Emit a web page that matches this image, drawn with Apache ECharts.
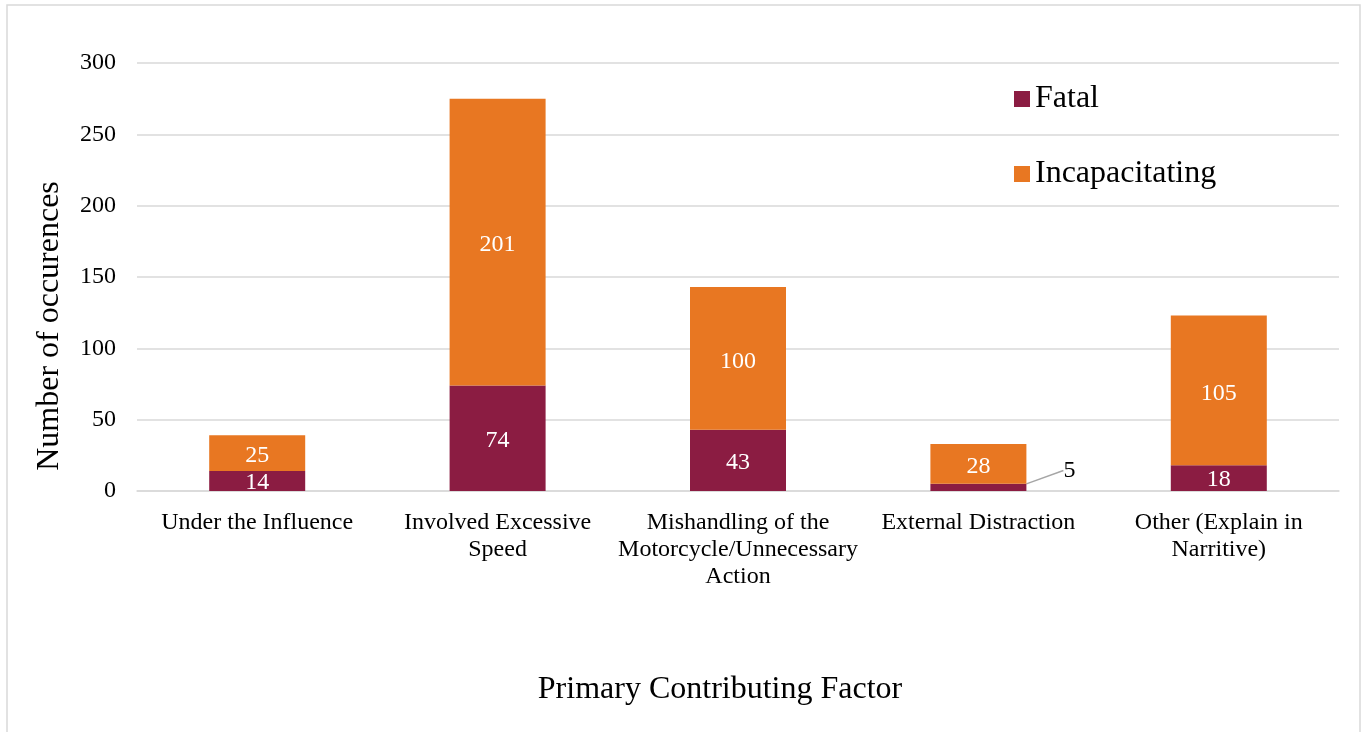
<!DOCTYPE html>
<html>
<head>
<meta charset="utf-8">
<script src="https://cdn.jsdelivr.net/npm/echarts@6/dist/echarts.min.js"></script>
<style>
  html, body { margin: 0; padding: 0; background: #fff; }
  #main { width: 1365px; height: 732px; }
</style>
</head>
<body>
<div id="main"></div>
<script>
var categories = ['Under the Influence', 'Involved Excessive\nSpeed', 'Mishandling of the\nMotorcycle/Unnecessary\nAction', 'External Distraction', 'Other (Explain in\nNarritive)'];
var fatal = [14, 74, 43, 5, 18];
var incapacitating = [25, 201, 100, 28, 105];

var serif = '"Liberation Serif", "Times New Roman", serif';

/*初始化*/
var myChart = echarts.init(document.getElementById('main'));

// 5 is too small to sit inside its bar, so it goes outside with a leader line
var fatalData = fatal.map(function (v) {
    if (v < 10) {
        return {
            value: v,
            label: { position: 'right', color: '#000', distance: 4 },
            labelLine: { show: true, lineStyle: { color: '#a6a6a6', width: 1.5 } }
        };
    }
    return v;
});

var option = {
    animation: false,
    textStyle: { fontFamily: serif },
    grid: { left: 137, right: 26, top: 63, bottom: 241 },
    legend: {
        orient: 'vertical',
        left: 1009,
        top: 78,
        icon: 'rect',
        itemWidth: 16,
        itemHeight: 16,
        itemGap: 43,
        textStyle: { fontFamily: serif, fontSize: 32, color: '#000' },
        data: ['Fatal', 'Incapacitating']
    },
    xAxis: {
        type: 'category',
        data: categories,
        axisLine: { lineStyle: { color: '#d9d9d9', width: 1.5 } },
        axisTick: { show: false },
        axisLabel: {
            interval: 0,
            margin: 18,
            fontFamily: serif,
            fontSize: 24,
            lineHeight: 27,
            color: '#000'
        }
    },
    yAxis: {
        type: 'value',
        min: 0,
        max: 300,
        interval: 50,
        axisLine: { show: false },
        axisTick: { show: false },
        splitLine: { lineStyle: { color: '#d9d9d9', width: 1.5 } },
        axisLabel: { margin: 21, fontFamily: serif, fontSize: 24, color: '#000', padding: [5, 0, 0, 0] }
    },
    graphic: [
        {
            type: 'rect',
            shape: { x: 7, y: 5, width: 1353, height: 740 },
            style: { fill: null, stroke: '#d9d9d9', lineWidth: 1.5 },
            silent: true
        },
        {
            type: 'text',
            x: 50,
            y: 326,
            rotation: Math.PI / 2,
            style: {
                text: 'Number of occurences',
                font: '32px ' + serif,
                fill: '#000',
                align: 'center',
                verticalAlign: 'middle'
            }
        },
        {
            type: 'text',
            x: 720,
            y: 690,
            style: {
                text: 'Primary Contributing Factor',
                font: '32px ' + serif,
                fill: '#000',
                align: 'center',
                verticalAlign: 'middle'
            }
        }
    ],
    series: [
        {
            name: 'Fatal',
            type: 'bar',
            stack: 'total',
            barWidth: 96,
            itemStyle: { color: '#8b1c42' },
            label: { show: true, position: 'inside', color: '#fff', fontFamily: serif, fontSize: 24 },
            labelLayout: function (params) {
                if (fatal[params.dataIndex] < 10) {
                    return { dx: 33, dy: -17 };
                }
                return { dy: 2 };
            },
            data: fatalData
        },
        {
            name: 'Incapacitating',
            type: 'bar',
            stack: 'total',
            barWidth: 96,
            itemStyle: { color: '#e87722' },
            label: { show: true, position: 'inside', offset: [0, 3], color: '#fff', fontFamily: serif, fontSize: 24 },
            data: incapacitating
        }
    ]
};

/*生成图表*/
myChart.setOption(option);
</script>
</body>
</html>
